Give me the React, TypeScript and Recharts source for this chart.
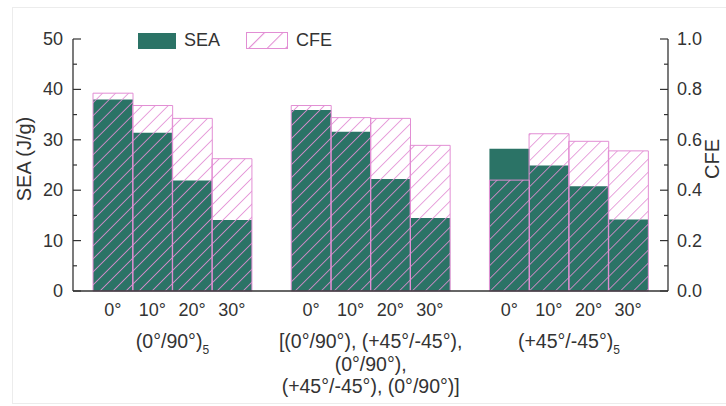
import React from 'react';
import { BarChart, Bar, XAxis, YAxis, Legend } from 'recharts';

// angle of each bar within a group
const angleLabels = ['0°', '10°', '20°', '30°'];

// layup names under each group (multi-line for the middle one)
const groupLines = [
  ['(0°/90°)'],
  ['[(0°/90°), (+45°/-45°),', '(0°/90°),', '(+45°/-45°), (0°/90°)]'],
  ['(+45°/-45°)'],
];
const groupSubscripts = ['5', '', '5'];

// SEA (J/g), left axis
const seaGroup1 = [38.0, 31.4, 21.9, 14.1];
const seaGroup2 = [35.9, 31.6, 22.2, 14.5];
const seaGroup3 = [28.2, 24.9, 20.8, 14.2];

// CFE, right axis
const cfeGroup1 = [0.785, 0.736, 0.685, 0.525];
const cfeGroup2 = [0.736, 0.688, 0.685, 0.578];
const cfeGroup3 = [0.44, 0.624, 0.594, 0.556];

const seaTicks = [0, 5, 10, 15, 20, 25, 30, 35, 40, 45, 50];
const cfeTicks = [0, 1, 2, 3, 4, 5, 6, 7, 8, 9, 10].map((i) => i / 10);

const TEAL = '#2b7366';
const PINK = '#e28ed4';
const INK = '#333';
const FONT = 'Arial, "Liberation Sans", sans-serif';

type Row = {
  key: string;
  angle?: string;
  sea?: number | null;
  cfe?: number | null;
  lines?: string[];
  sub?: string;
};

const seaGroups = [seaGroup1, seaGroup2, seaGroup3];
const cfeGroups = [cfeGroup1, cfeGroup2, cfeGroup3];

const rows: Row[] = [];
seaGroups.forEach((sea, g) => {
  sea.forEach((v, i) => {
    rows.push({
      key: `g${g}-${i}`,
      angle: angleLabels[i],
      sea: v,
      cfe: cfeGroups[g][i],
      // group name hangs off the 2nd bar, shifted half a slot right
      lines: i === 1 ? groupLines[g] : undefined,
      sub: i === 1 ? groupSubscripts[g] : undefined,
    });
  });
  if (g < seaGroups.length - 1) rows.push({ key: `gap${g}`, sea: null, cfe: null });
});
const rowByKey: Record<string, Row> = {};
rows.forEach((r) => (rowByKey[r.key] = r));

const LeftTick = (props: any) => {
  const { x, y, payload } = props;
  const v = payload.value;
  const major = v % 10 === 0;
  const ax = x + 10;
  return (
    <g>
      <line x1={ax} x2={ax + (major ? 8 : 4)} y1={y} y2={y} stroke={INK} strokeWidth={1.2} />
      {major && (
        <text x={x} y={y} textAnchor="end" dominantBaseline="central" fontSize={18} fill={INK} fontFamily={FONT}>
          {v}
        </text>
      )}
    </g>
  );
};

const RightTick = (props: any) => {
  const { x, y, payload } = props;
  const v = payload.value;
  const major = Math.round(v * 10) % 2 === 0;
  const ax = x - 9;
  return (
    <g>
      <line x1={ax} x2={ax - (major ? 8 : 4)} y1={y} y2={y} stroke={INK} strokeWidth={1.2} />
      {major && (
        <text x={x} y={y} textAnchor="start" dominantBaseline="central" fontSize={18} fill={INK} fontFamily={FONT}>
          {v.toFixed(1)}
        </text>
      )}
    </g>
  );
};

const CategoryTick = (props: any) => {
  const { x, y, payload } = props;
  const row = rowByKey[payload.value];
  if (!row || !row.angle) return null;
  const lines = row.lines || [];
  return (
    <g fontFamily={FONT} fill={INK}>
      <text x={x} y={y + 25} textAnchor="middle" fontSize={18}>
        {row.angle}
      </text>
      {lines.map((l, i) => (
        <text key={i} x={x + 20} y={y + 57 + i * 22.5} textAnchor="middle" fontSize={19.5}>
          {l}
          {i === lines.length - 1 && row.sub ? (
            <tspan fontSize={12} dy={6}>
              {row.sub}
            </tspan>
          ) : null}
        </text>
      ))}
    </g>
  );
};

const AxisTitle = (props: any) => {
  const { viewBox, side, text } = props;
  const cy = viewBox.y + viewBox.height / 2 - 6;
  const cx = side === 'left' ? viewBox.x + 1 : viewBox.x + viewBox.width - 6;
  return (
    <text
      x={cx}
      y={cy}
      transform={`rotate(-90 ${cx} ${cy})`}
      textAnchor="middle"
      dominantBaseline="central"
      fontSize={20}
      fill={INK}
      fontFamily={FONT}
    >
      {text}
    </text>
  );
};

const LegendBox = () => (
  <div style={{ display: 'flex', alignItems: 'center', fontFamily: FONT, fontSize: 18, color: INK }}>
    <span style={{ width: 38, height: 16, background: TEAL, display: 'inline-block' }} />
    <span style={{ marginLeft: 8 }}>SEA</span>
    <svg width={42} height={17} style={{ marginLeft: 26 }}>
      <defs>
        <pattern id="legendHatch" width={13} height={13} patternUnits="userSpaceOnUse" patternTransform="rotate(45)">
          <line x1={0} y1={0} x2={0} y2={13} stroke={PINK} strokeWidth={2.2} />
        </pattern>
      </defs>
      <rect x={0.5} y={0.5} width={41} height={16} fill="url(#legendHatch)" stroke={PINK} strokeWidth={1} />
    </svg>
    <span style={{ marginLeft: 8 }}>CFE</span>
  </div>
);

export default function App() {
  return (
    <div style={{ position: 'absolute', left: 0, top: 0, width: 726, height: 406, background: '#fff' }}>
      <div
        style={{
          position: 'absolute',
          left: 12,
          top: 7,
          width: 714,
          height: 395,
          borderLeft: '1px solid #ececec',
          borderTop: '1px solid #ececec',
          borderBottom: '1px solid #ececec',
        }}
      />
      <BarChart
        width={726}
        height={406}
        data={rows}
        margin={{ top: 18, right: 8, bottom: 0, left: 23 }}
        barCategoryGap={0}
        barGap={0}
      >
        <defs>
          <pattern id="cfeHatch" width={9.2} height={9.2} patternUnits="userSpaceOnUse" patternTransform="rotate(45)">
            <line x1={0} y1={0} x2={0} y2={9.2} stroke={PINK} strokeWidth={1.6} />
          </pattern>
        </defs>
        <XAxis
          xAxisId="sea"
          dataKey="key"
          orientation="bottom"
          height={115}
          padding={{ left: 20, right: 20 }}
          interval={0}
          tickLine={false}
          tickSize={0}
          tickMargin={0}
          axisLine={{ stroke: INK, strokeWidth: 1.3 }}
          tick={<CategoryTick />}
        />
        <XAxis
          xAxisId="cfe"
          dataKey="key"
          orientation="top"
          height={0}
          padding={{ left: 20, right: 20 }}
          tick={false}
          tickLine={false}
          axisLine={{ stroke: INK, strokeWidth: 1.3 }}
        />
        <YAxis
          yAxisId="sea"
          orientation="left"
          width={50}
          domain={[0, 50]}
          ticks={seaTicks}
          interval={0}
          tickLine={false}
          tickSize={0}
          tickMargin={10}
          axisLine={{ stroke: INK, strokeWidth: 1.3 }}
          tick={<LeftTick />}
          label={<AxisTitle side="left" text="SEA (J/g)" />}
        />
        <YAxis
          yAxisId="cfe"
          orientation="right"
          width={50}
          domain={[0, 1]}
          ticks={cfeTicks}
          interval={0}
          tickLine={false}
          tickSize={0}
          tickMargin={9}
          axisLine={{ stroke: INK, strokeWidth: 1.3 }}
          tick={<RightTick />}
          label={<AxisTitle side="right" text="CFE" />}
        />
        <Legend
          verticalAlign="top"
          align="left"
          wrapperStyle={{ top: 30, left: 138, width: 'auto' }}
          content={() => <LegendBox />}
        />
        <Bar
          xAxisId="sea"
          yAxisId="sea"
          dataKey="sea"
          name="SEA"
          fill={TEAL}
          isAnimationActive={false}
        />
        <Bar
          xAxisId="cfe"
          yAxisId="cfe"
          dataKey="cfe"
          name="CFE"
          fill="url(#cfeHatch)"
          stroke={PINK}
          strokeWidth={1}
          isAnimationActive={false}
        />
      </BarChart>
    </div>
  );
}
